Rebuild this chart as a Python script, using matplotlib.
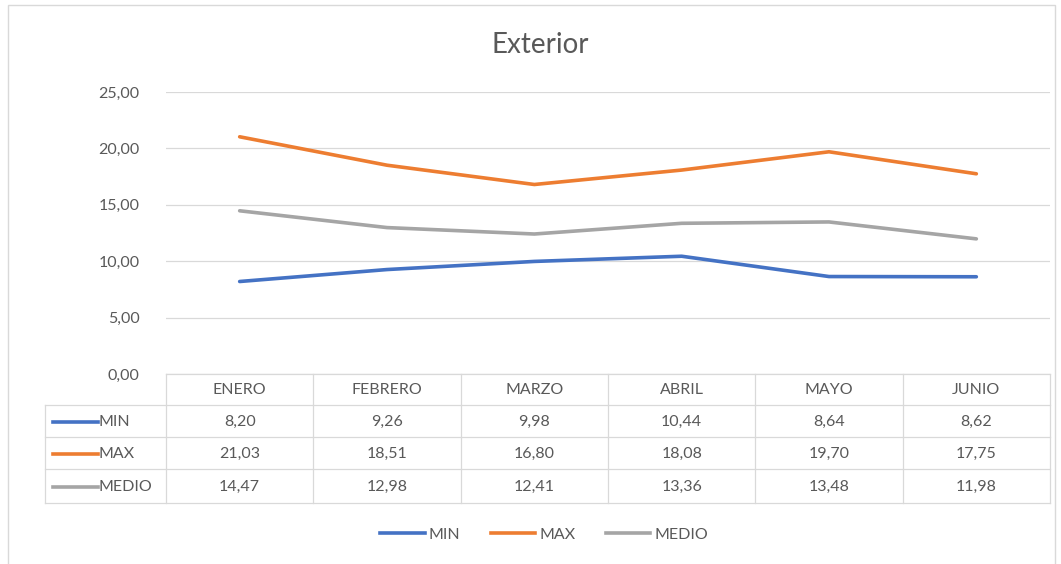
import numpy as np
import matplotlib.pyplot as plt
from matplotlib.lines import Line2D
from matplotlib.patches import Rectangle

# monthly temperatures, exterior sensor
months = ['ENERO', 'FEBRERO', 'MARZO', 'ABRIL', 'MAYO', 'JUNIO']
t_min = [8.20, 9.26, 9.98, 10.44, 8.64, 8.62]
t_max = [21.03, 18.51, 16.80, 18.08, 19.70, 17.75]
t_med = [14.47, 12.98, 12.41, 13.36, 13.48, 11.98]
series = [('MIN', t_min, '#4472C4'), ('MAX', t_max, '#ED7D31'), ('MEDIO', t_med, '#A5A5A5')]
yticks = [0, 5, 10, 15, 20, 25]

W, H = 1061, 564
plt.rcParams['font.family'] = ['Lato', 'DejaVu Sans']
txt = '#595959'
grid = '#D9D9D9'
fs = 11.5

fig = plt.figure(figsize=(W / 100, H / 100), dpi=100)

def fx(x):
    return x / W

def fy(y):
    return 1 - y / H

# plot area in pixels
left, right, top, bottom = 166, 1050, 92, 374
ax = fig.add_axes([fx(left), fy(bottom), fx(right - left), (bottom - top) / H])
x = np.arange(len(months))
for name, vals, c in series:
    ax.plot(x, vals, color=c, lw=2.6, solid_capstyle='round', solid_joinstyle='round')
ax.set_xlim(-0.5, len(months) - 0.5)
ax.set_ylim(0, 25)
ax.set_yticks(yticks)
ax.set_yticklabels([f'{v:.2f}'.replace('.', ',') for v in yticks], color=txt, fontsize=fs)
ax.tick_params(axis='y', length=0, pad=19)
ax.set_xticks([])
ax.grid(axis='y', color=grid, lw=0.9)
ax.set_axisbelow(True)
for s in ax.spines.values():
    s.set_visible(False)

fig.text(fx(540), fy(45), 'Exterior', ha='center', va='center', fontsize=20, color=txt)

# outer chart border
fig.patches.append(Rectangle((fx(8), fy(572)), fx(1047), (572 - 5) / H,
                             transform=fig.transFigure, fill=False, ec=grid, lw=1))

# data table under the plot
col_w = (right - left) / len(months)
rows_y = [374, 405, 437, 469, 503]
tab_left = 45

def hline(y, x0, x1):
    fig.add_artist(Line2D([fx(x0), fx(x1)], [fy(y), fy(y)], color=grid, lw=0.9))

def vline(xp, y0, y1):
    fig.add_artist(Line2D([fx(xp), fx(xp)], [fy(y0), fy(y1)], color=grid, lw=0.9))

hline(rows_y[0], left, right)
for y in rows_y[1:]:
    hline(y, tab_left, right)
vline(tab_left, rows_y[1], rows_y[-1])
for k in range(len(months) + 1):
    vline(left + k * col_w, rows_y[0], rows_y[-1])

for k, m in enumerate(months):
    fig.text(fx(left + (k + 0.5) * col_w), fy((rows_y[0] + rows_y[1]) / 2 + 1), m,
             ha='center', va='center', fontsize=fs, color=txt)

for r, (name, vals, c) in enumerate(series):
    yc = (rows_y[r + 1] + rows_y[r + 2]) / 2 + 1
    fig.add_artist(Line2D([fx(53), fx(98)], [fy(yc), fy(yc)], color=c, lw=2.6))
    fig.text(fx(99), fy(yc), name, ha='left', va='center', fontsize=fs, color=txt)
    for k, v in enumerate(vals):
        fig.text(fx(left + (k + 0.5) * col_w), fy(yc), f'{v:.2f}'.replace('.', ','),
                 ha='center', va='center', fontsize=fs, color=txt)

# legend below the table
handles = [Line2D([], [], color=c, lw=2.6) for _, _, c in series]
fig.legend(handles, [n for n, _, _ in series], loc='center', bbox_to_anchor=(fx(544), fy(535)),
           ncol=3, frameon=False, fontsize=fs, labelcolor=txt, handlelength=2.8,
           handletextpad=0.25, columnspacing=1.9)

fig.savefig('out.png', dpi=100, facecolor='white')
